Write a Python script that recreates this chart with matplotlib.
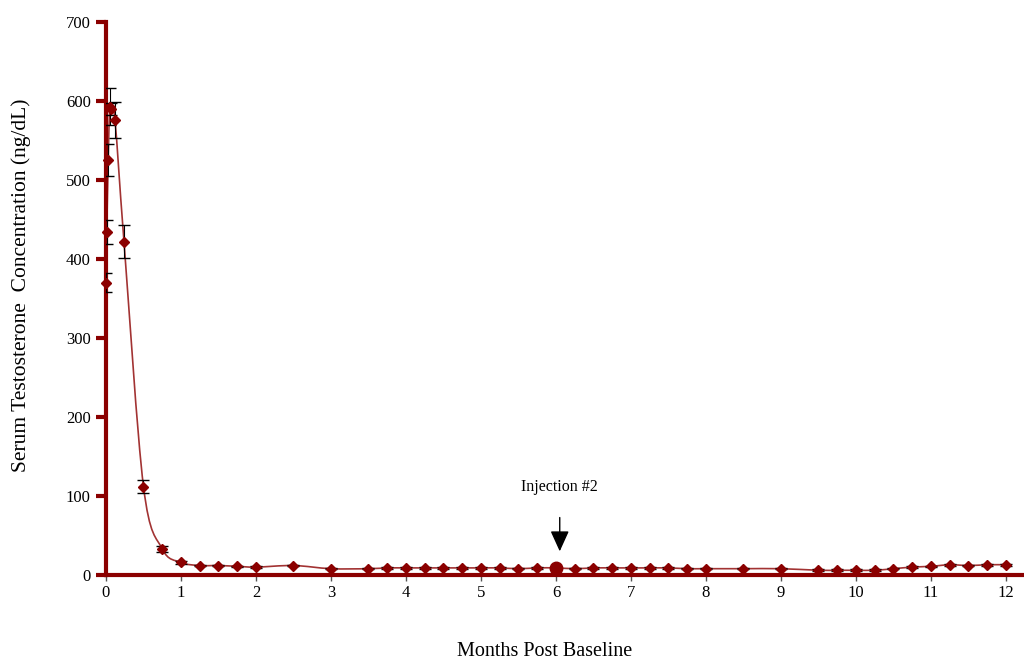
import numpy as np
import matplotlib.pyplot as plt
from matplotlib.path import Path
from matplotlib.patches import PathPatch

plt.rcParams['font.family'] = ['Liberation Serif', 'DejaVu Serif']

# months post baseline
months = [0.0, 0.01, 0.03, 0.05, 0.07, 0.12, 0.24, 0.5, 0.75, 1.0, 1.25, 1.5, 1.75, 2.0,
          2.5, 3.0, 3.5, 3.75, 4.0, 4.25, 4.5, 4.75, 5.0, 5.25, 5.5, 5.75, 6.0, 6.25,
          6.5, 6.75, 7.0, 7.25, 7.5, 7.75, 8.0, 8.5, 9.0, 9.5, 9.75, 10.0, 10.25,
          10.5, 10.75, 11.0, 11.25, 11.5, 11.75, 12.0]
# serum testosterone (ng/dL)
testo = [370, 434, 525, 593, 590, 576, 422, 112, 33, 16, 12, 12, 11, 10,
         12, 8, 8, 9, 9, 9, 9, 9, 9, 9, 8, 9, 9, 8,
         9, 9, 9, 9, 9, 8, 8, 8, 8, 6, 6, 6, 6,
         8, 10, 11, 13, 12, 13, 13]
err = [12, 15, 20, 24, 8, 23, 21, 8, 4, 2, 1, 1, 1, 1,
       1, 1, 1, 1, 1, 1, 1, 1, 1, 1, 1, 1, 1, 1,
       1, 1, 1, 1, 1, 1, 1, 1, 1, 1, 1, 1, 1,
       1, 1, 1, 1, 1, 1, 1]

red = '#8b0000'

fig = plt.figure(figsize=(10.24, 6.62), dpi=100)
ax = fig.add_axes([0.1035, 0.1314, 0.8965, 0.8354])
ax.set_xlim(0, 12.24)
ax.set_ylim(0, 700)

# smoothed line (bezier through the points, like the spreadsheet's smoothing)
x = np.array(months)
y = np.array(testo, dtype=float)
verts = [(x[0], y[0])]
codes = [Path.MOVETO]
for i in range(len(x) - 1):
    x0, y0 = (x[i - 1], y[i - 1]) if i > 0 else (x[i], y[i])
    x3, y3 = (x[i + 2], y[i + 2]) if i + 2 < len(x) else (x[i + 1], y[i + 1])
    c1 = (x[i] + (x[i + 1] - x0) / 6, y[i] + (y[i + 1] - y0) / 6)
    c2 = (x[i + 1] - (x3 - x[i]) / 6, y[i + 1] - (y3 - y[i]) / 6)
    verts += [c1, c2, (x[i + 1], y[i + 1])]
    codes += [Path.CURVE4] * 3
ax.add_patch(PathPatch(Path(verts, codes), fill=False, edgecolor=red, lw=1.2,
                       alpha=0.8, clip_on=False, zorder=2))

ax.errorbar(months, testo, yerr=err, fmt='none', ecolor='black', elinewidth=0.8,
            capsize=4, capthick=1, zorder=3)
ax.plot(months, testo, linestyle='none', marker='D', ms=5.5, color=red,
        clip_on=False, zorder=4)
ax.plot([6.0], [9], linestyle='none', marker='o', ms=9, color=red, zorder=4)

for s in ['top', 'right']:
    ax.spines[s].set_visible(False)
for s in ['left', 'bottom']:
    ax.spines[s].set_color(red)
    ax.spines[s].set_linewidth(3)

ax.set_yticks(range(0, 701, 100))
ax.set_xticks(range(0, 13))
ax.tick_params(axis='y', direction='out', length=7, width=3, color=red,
               labelsize=12, pad=4)
ax.tick_params(axis='x', direction='out', length=4, width=1, color='#555555',
               labelsize=12, pad=3)

ax.set_ylabel('Serum Testosterone  Concentration (ng/dL)', fontsize=15.5)
ax.yaxis.set_label_coords(-0.082, 0.524)
ax.set_xlabel('Months Post Baseline', fontsize=14.5)
ax.xaxis.set_label_coords(0.478, -0.122)

ax.annotate('Injection #2', xy=(6.05, 30), xytext=(6.05, 111),
            ha='center', va='center', fontsize=11.5,
            arrowprops=dict(arrowstyle='-|>,head_width=0.5,head_length=1.1',
                            color='black', lw=1, shrinkA=14, shrinkB=0))

fig.savefig('out.png', dpi=100)
